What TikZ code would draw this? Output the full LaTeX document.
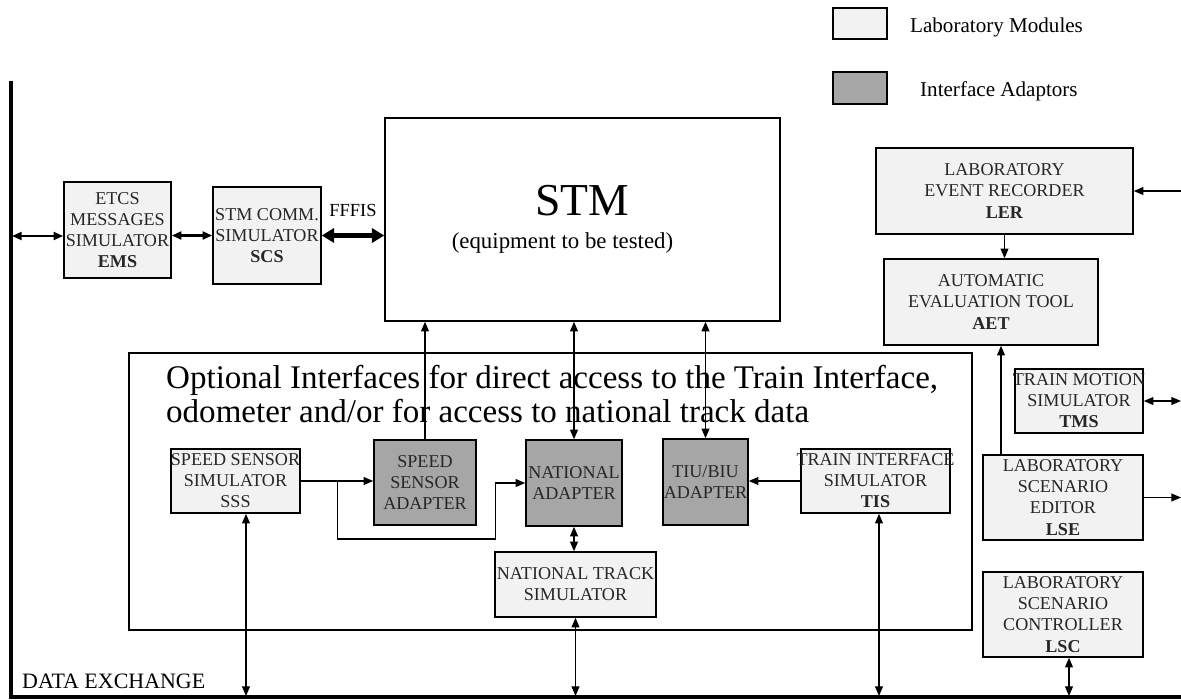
\documentclass[tikz,border=0pt]{standalone}
\usepackage{fontspec}
\setmainfont{Liberation Serif}
\usetikzlibrary{arrows.meta,calc}
\definecolor{labgray}{HTML}{F2F2F2}
\definecolor{adpgray}{HTML}{A6A6A6}

\begin{document}
\begin{tikzpicture}[x=0.02cm, y=-0.02cm,
    lab/.style={draw, line width=0.9pt, fill=labgray, inner sep=0pt, align=center,
                font=\fontsize{10.3}{12}\selectfont, text=black!85},
    adp/.style={lab, fill=adpgray},
    link/.style={line width=0.7pt, -{Triangle[length=5.5pt,width=4.5pt]}},
    dlink/.style={link, {Triangle[length=5.5pt,width=4.5pt]}-{Triangle[length=5.5pt,width=4.5pt]}}]
      \useasboundingbox (0,0) rectangle (1181,700);
      % legend
      \node[lab, minimum width=1.08cm, minimum height=0.62cm] (keylab) at (860,23.5) {};
      \node[anchor=west, font=\fontsize{12}{14}\selectfont] (keylabtxt) at (904,27) {Laboratory Modules};
      \node[adp, minimum width=1.08cm, minimum height=0.64cm] (keyadp) at (860,88) {};
      \node[anchor=west, font=\fontsize{12}{14}\selectfont] (keyadptxt) at (914,91) {Interface Adaptors};
      % data exchange bus
      \draw[line width=2.4pt] (11,81) -- (11,699);
      \draw[line width=1.8pt] (9,697) -- (1181,697);
      \coordinate (busL) at (12,236);
      \coordinate (busB) at (0,696);
      \coordinate (edge) at (1181,0);
      \node[anchor=base west, font=\fontsize{12.5}{14}\selectfont] (bustxt) at (16,688) {DATA EXCHANGE};
      % equipment under test
      \node[draw, line width=0.9pt, minimum width=7.9cm, minimum height=4.06cm, align=center] (stm) at (582.5,219.5)
            {{\fontsize{26}{30}\selectfont STM}\\[7pt]{\fontsize{13}{15}\selectfont\hspace*{-0.8cm}(equipment to be tested)}};
      \node[lab, minimum width=2.14cm, minimum height=1.92cm] (ems) at (117.5,230) {ETCS\\MESSAGES\\SIMULATOR\\\textbf{EMS}};
      \node[lab, minimum width=2.16cm, minimum height=1.94cm] (scs) at (267,235.5) {\makebox[0pt]{STM COMM.}\\SIMULATOR\\\textbf{SCS}};
      % optional interfaces
      \node[draw, line width=0.8pt, minimum width=16.86cm, minimum height=5.54cm] (opt) at (550.5,491.5) {};
      \node[anchor=west, align=left, font=\fontsize{18.8}{19.6}\selectfont] (opttxt) at (160,394)
            {Optional Interfaces for direct access to the Train Interface,\\odometer and/or for access to national track data};
      \node[lab, minimum width=2.58cm, minimum height=1.28cm] (sss) at (235.5,481) {\makebox[0pt]{SPEED SENSOR}\\SIMULATOR\\SSS};
      \node[adp, minimum width=2.04cm, minimum height=1.70cm] (ssa) at (425,482.5) {SPEED\\SENSOR\\ADAPTER};
      \node[adp, minimum width=1.92cm, minimum height=1.72cm] (nad) at (574,483) {\makebox[0pt]{NATIONAL}\\ADAPTER};
      \node[adp, minimum width=1.70cm, minimum height=1.72cm] (tiu) at (705.5,482) {TIU/BIU\\\makebox[0pt]{ADAPTER}};
      \node[lab, minimum width=2.98cm, minimum height=1.28cm] (tis) at (875.5,481) {\makebox[0pt]{TRAIN INTERFACE}\\SIMULATOR\\\textbf{TIS}};
      \node[lab, minimum width=3.22cm, minimum height=1.30cm] (nts) at (575.5,584.5) {\makebox[0pt]{NATIONAL TRACK}\\SIMULATOR};
      % laboratory tools
      \node[lab, minimum width=5.14cm, minimum height=1.72cm] (ler) at (1004.5,191) {LABORATORY\\EVENT RECORDER\\\textbf{LER}};
      \node[lab, minimum width=4.28cm, minimum height=1.72cm] (aet) at (991,302) {AUTOMATIC\\EVALUATION TOOL\\\textbf{AET}};
      \node[lab, minimum width=2.56cm, minimum height=1.28cm] (tms) at (1079,401) {\makebox[0pt]{TRAIN MOTION}\\SIMULATOR\\\textbf{TMS}};
      \node[lab, minimum width=3.20cm, minimum height=1.70cm] (lse) at (1063,497.5) {LABORATORY\\SCENARIO\\EDITOR\\\textbf{LSE}};
      \node[lab, minimum width=3.20cm, minimum height=1.70cm] (lsc) at (1063,614.5) {LABORATORY\\SCENARIO\\CONTROLLER\\\textbf{LSC}};
      % connections
      \draw[dlink, line width=1.3pt] (busL) -- (busL -| ems.west);
      \draw[dlink, line width=1.3pt] (scs.west -| ems.east) -- (scs.west);
      \draw[line width=2.6pt, {Triangle[length=7pt,width=8pt]}-{Triangle[length=7pt,width=8pt]}]
            (scs.east) -- (scs.east -| stm.west) node[midway, above=6pt, font=\fontsize{10.5}{12}\selectfont] (fffis) {FFFIS};
      \draw[link] (sss.east) -- (sss.east -| ssa.west);
      \draw[link] (sss.east) ++(37,0) -- ++(0,58) -| ($(nad.west)+(-30,0)$) -- (nad.west);
      \draw[link] (ssa.north) -- (ssa.north |- stm.south);
      \draw[dlink] (nad.north) -- (nad.north |- stm.south);
      \draw[dlink] (tiu.north) -- (tiu.north |- stm.south);
      \draw[link] (tis.west) -- (tis.west -| tiu.east);
      \draw[dlink] (nad.south) -- (nad.south |- nts.north);
      \draw[dlink] (nts.south) -- (nts.south |- busB);
      \draw[dlink] ([xshift=0.21cm]sss.south) -- ([xshift=0.21cm]sss.south |- busB);
      \draw[dlink] ([xshift=0.07cm]tis.south) -- ([xshift=0.07cm]tis.south |- busB);
      \draw[dlink] ([xshift=0.12cm]lsc.south) -- ([xshift=0.12cm]lsc.south |- busB);
      \draw[link] (ler.south) -- (ler.south |- aet.north);
      \draw[link] ([xshift=-1.24cm]lse.north) -- ([xshift=-1.24cm]lse.north |- aet.south);
      \draw[link] (edge |- ler.east) -- (ler.east);
      \draw[dlink] (tms.east) -- (tms.east -| edge);
      \draw[link] (lse.east) -- (lse.east -| edge);
\end{tikzpicture}
\end{document}
